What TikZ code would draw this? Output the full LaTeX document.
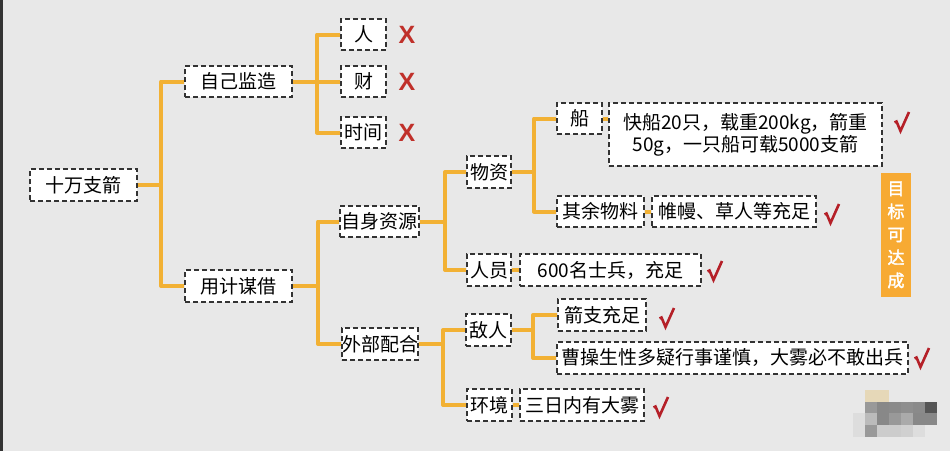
\documentclass[tikz,border=0pt]{standalone}
\usepackage{fontspec}
\setmainfont{Noto Sans CJK SC}
\newfontfamily\xfont{Liberation Sans}
\newfontfamily\goalfont[AutoFakeBold=2]{Noto Sans CJK SC}
\definecolor{bgc}{HTML}{E8E8E8}
\definecolor{boxc}{HTML}{333333}
\definecolor{orng}{HTML}{F2B134}
\definecolor{goalc}{HTML}{F7AA33}
\definecolor{xred}{HTML}{C0302A}
\definecolor{cred}{HTML}{B52028}
\definecolor{beigec}{HTML}{E6D8B8}
\begin{document}
\begin{tikzpicture}[x=1pt,y=-1pt,
  box/.style={draw=boxc, line width=1.4pt, dash pattern=on 5pt off 3pt, fill=white,
    inner sep=0pt, font=\fontsize{19}{22}\selectfont, align=center},
  conn/.style={draw=orng, line width=4pt, line join=round},
  xmark/.style={text=xred, font=\xfont\bfseries\fontsize{25}{25}\selectfont, inner sep=0pt},
  checkm/.pic={\draw[cred, line width=2.6pt, line join=miter, line cap=butt]
     (-7.5,0.5) -- (-5.5,-0.5) -- (-1.5,9) -- (7,-10);}]
\fill[bgc] (0,0) rectangle (950,451);
\useasboundingbox (0,0) rectangle (950,451);
\fill[black!80] (0,0) rectangle (2.5,451);

% nodes
\node[box, minimum width=107pt, minimum height=32pt] (root) at (83.5,185) {十万支箭};
\node[box, minimum width=107pt, minimum height=31pt] (zj) at (238.5,81.5) {自己监造};
\node[box, minimum width=107pt, minimum height=32pt] (yj) at (238.5,286) {用计谋借};
\node[box, minimum width=45pt, minimum height=31pt] (ren) at (363.5,34.5) {人};
\node[box, minimum width=45pt, minimum height=31pt] (cai) at (363.5,81.5) {财};
\node[box, minimum width=45pt, minimum height=31pt] (sj) at (363.5,132.5) {时间};
\node[box, minimum width=79pt, minimum height=31pt] (zs) at (379.5,221.5) {自身资源};
\node[box, minimum width=76pt, minimum height=32pt] (wb) at (380,344) {外部配合};
\node[box, minimum width=44pt, minimum height=32pt] (wz) at (489,172) {物资};
\node[box, minimum width=44pt, minimum height=32pt] (ry) at (489,270) {人员};
\node[box, minimum width=45pt, minimum height=32pt] (dr) at (488.5,330) {敌人};
\node[box, minimum width=45pt, minimum height=32pt] (hj) at (489.5,405) {环境};
\node[box, minimum width=45pt, minimum height=31pt] (chuan) at (579.5,118.5) {船};
\node[box, minimum width=273pt, minimum height=63pt] (chuanT) at (745.5,134.5) {快船20只，载重200kg，箭重\\50g，一只船可载5000支箭};
\node[box, minimum width=87pt, minimum height=31pt] (qy) at (600.5,211.5) {其余物料};
\node[box, minimum width=164pt, minimum height=31pt] (qyT) at (734,211.5) {帷幔、草人等充足};
\node[box, minimum width=181pt, minimum height=32pt] (ryT) at (610.5,270) {600名士兵，充足};
\node[box, minimum width=88pt, minimum height=32pt] (jz) at (602,315) {箭支充足};
\node[box, minimum width=351pt, minimum height=32pt] (cc) at (732.5,358) {曹操生性多疑行事谨慎，大雾必不敢出兵};
\node[box, minimum width=124pt, minimum height=32pt] (hjT) at (582,405) {三日内有大雾};

\node[fill=goalc, minimum width=30pt, minimum height=124pt, inner sep=0pt, text=white,
  font=\goalfont\bfseries\fontsize{17}{23}\selectfont, align=center] (goal) at (896,235) {目\\标\\可\\达\\成};

% spine coordinates
\coordinate (s1) at (161,185);
\coordinate (s2) at (317,81.5);
\coordinate (s3) at (318,286);
\coordinate (s4) at (445,221.5);
\coordinate (s5) at (443,344);
\coordinate (s6) at (534,172);
\coordinate (s7) at (533,330);

% connectors
\draw[conn] (root.east) -- (s1);
\draw[conn] (zj.west) -| (s1) |- (yj.west);
\draw[conn] (zj.east) -- (cai.west);
\draw[conn] (ren.west) -| (s2) |- (sj.west);
\draw[conn] (yj.east) -- (s3);
\draw[conn] (zs.west) -| (s3) |- (wb.west);
\draw[conn] (zs.east) -- (s4);
\draw[conn] (wz.west) -| (s4) |- (ry.west);
\draw[conn] (wb.east) -- (s5);
\draw[conn] (dr.west) -| (s5) |- (hj.west);
\draw[conn] (wz.east) -- (s6);
\draw[conn] (chuan.west) -| (s6) |- (qy.west);
\draw[conn] (dr.east) -- (s7);
\draw[conn] (jz.west) -| (s7) |- (cc.west);
\draw[conn] (chuan.east) -- (chuan.east -| chuanT.west);
\draw[conn] (qy.east) -- (qyT.west);
\draw[conn] (ry.east) -- (ryT.west);
\draw[conn] (hj.east) -- (hjT.west);

% marks
\node[xmark] (x1) at (407,35) {X};
\node[xmark] (x2) at (407,82) {X};
\node[xmark] (x3) at (407,133) {X};
\pic at (902,122) {checkm};
\pic at (832,214) {checkm};
\pic at (715,271) {checkm};
\pic at (667,318) {checkm};
\pic at (922,358) {checkm};
\pic at (661,407) {checkm};

% blurred mosaic
\fill[beigec] (865,390) rectangle (889,402);
\foreach \xx/\yy/\cc in {
 865/402/999999, 877/402/888888, 889/402/8A8A8A, 901/402/8E8E8E, 913/402/8A8A8A, 925/402/555555,
 853/413/DDDDDD, 865/413/BBBBBB, 877/413/888888, 889/413/999999, 901/413/AAAAAA, 913/413/888888, 925/413/888888,
 853/425/DDDDDD, 865/425/999999, 877/425/CCCCCC, 889/425/CCCCCC, 901/425/D0D0D0, 913/425/DDDDDD}
 {\definecolor{mc}{HTML}{\cc}\fill[mc] (\xx,\yy) rectangle ++(12,12);}
\end{tikzpicture}
\end{document}
